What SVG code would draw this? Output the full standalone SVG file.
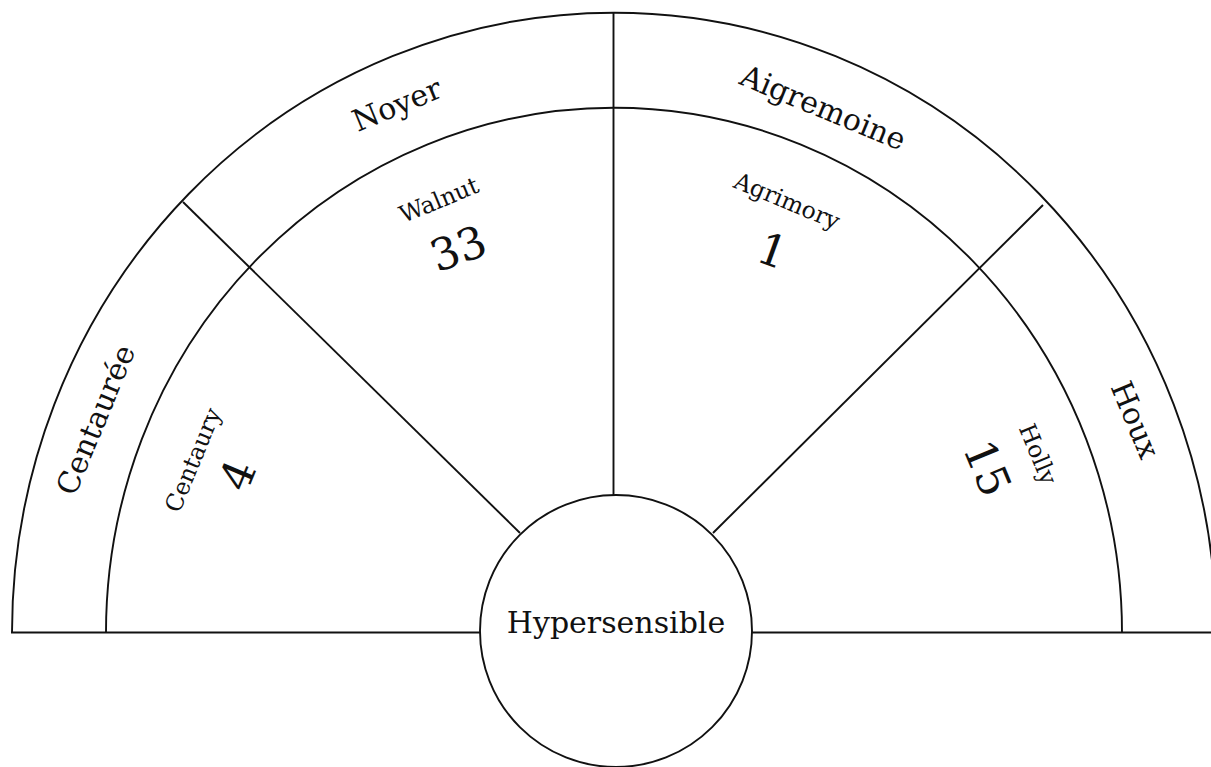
<svg xmlns="http://www.w3.org/2000/svg" width="1211" height="767" viewBox="0 0 1211 767">
<style>
.ln{fill:none;stroke:#111;stroke-width:1.9}
.t{font-family:"DejaVu Serif",serif;fill:#111;text-anchor:middle}
.big{font-size:30px}
.sm{font-size:23.5px}
.num{font-size:44px}
</style>
<rect width="1211" height="767" fill="#fff"/>
<g id="connectors">
<path class="ln" d="M11,632.5 H480"/>
<path class="ln" d="M752,632.5 H1211"/>
<path class="ln" d="M12,632.5 A602,620 0 0 1 1216,632.5"/>
<path class="ln" d="M106,632.5 A508,525 0 0 1 1122,632.5"/>
<path class="ln" d="M613.5,12 V495"/>
<path class="ln" d="M183,202 L520,533"/>
<path class="ln" d="M1043,205 L713,533"/>
</g>
<g id="centre">
<circle class="ln" cx="616" cy="631" r="136"/>
<text class="t big" x="616" y="633">Hypersensible</text>
</g>
<g id="centauree">
<text class="t big" transform="translate(96,420) rotate(-67.5)" y="10">Centaurée</text>
<text class="t sm" transform="translate(193,460) rotate(-67.5)" y="8">Centaury</text>
<text class="t num" transform="translate(237,475) rotate(-67.5)" y="16">4</text>
</g>
<g id="noyer">
<text class="t big" transform="translate(397,105) rotate(-22.5)" y="10">Noyer</text>
<text class="t sm" transform="translate(439,200) rotate(-22.5)" y="8">Walnut</text>
<text class="t num" transform="translate(458,248) rotate(-20)" y="16">33</text>
</g>
<g id="aigremoine">
<text class="t big" transform="translate(823,108) rotate(22.5)" y="10">Aigremoine</text>
<text class="t sm" transform="translate(787,201) rotate(22.5)" y="8">Agrimory</text>
<text class="t num" transform="translate(773,250) rotate(20)" y="16">1</text>
</g>
<g id="houx">
<text class="t big" transform="translate(1135,420) rotate(67.5)" y="10">Houx</text>
<text class="t sm" transform="translate(1038,454) rotate(67.5)" y="8">Holly</text>
<text class="t num" transform="translate(988,468) rotate(67.5)" y="16">15</text>
</g>
</svg>
